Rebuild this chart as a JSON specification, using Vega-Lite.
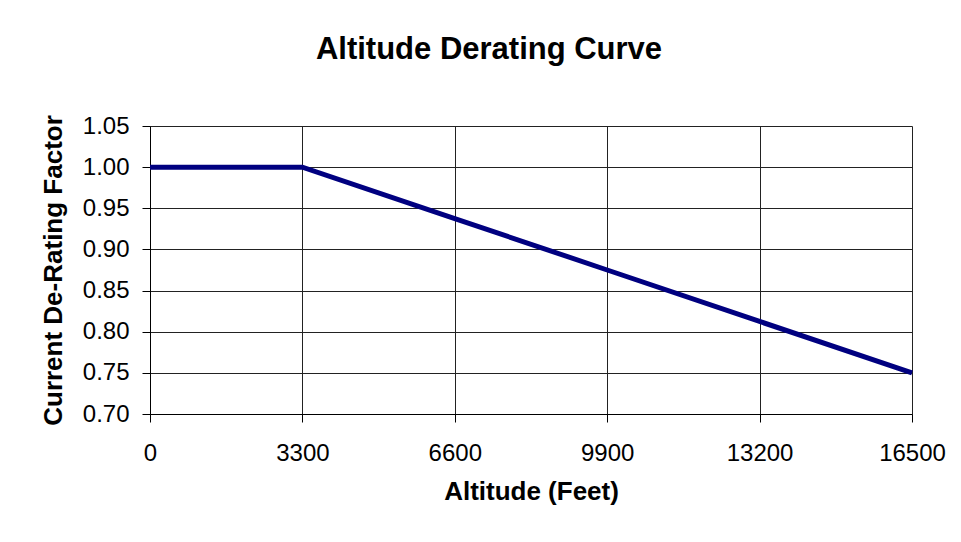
{
  "$schema": "https://vega.github.io/schema/vega-lite/v6.json",
  "width": 762,
  "height": 288,
  "autosize": "none",
  "padding": {"left": 150, "top": 126, "right": 49, "bottom": 128},
  "background": "white",
  "title": {
    "text": "Altitude Derating Curve",
    "font": "Liberation Sans",
    "fontSize": 31,
    "fontWeight": "bold",
    "color": "black",
    "anchor": "middle",
    "dx": -42,
    "offset": 48
  },
  "data": {
    "values": [
      {"altitude": 0, "factor": 1.0},
      {"altitude": 3300, "factor": 1.0},
      {"altitude": 6600, "factor": 0.9375},
      {"altitude": 9900, "factor": 0.875},
      {"altitude": 13200, "factor": 0.8125},
      {"altitude": 16500, "factor": 0.75}
    ]
  },
  "mark": {"type": "line", "color": "#000080", "strokeWidth": 5, "clip": false},
  "encoding": {
    "x": {
      "field": "altitude",
      "type": "quantitative",
      "scale": {"domain": [0, 16500], "nice": false, "zero": false},
      "axis": {
        "values": [0, 3300, 6600, 9900, 13200, 16500],
        "format": "d",
        "title": "Altitude (Feet)",
        "labelPadding": 19,
        "titlePadding": 13,
        "labelFlush": false,
        "labelOverlap": false
      }
    },
    "y": {
      "field": "factor",
      "type": "quantitative",
      "scale": {"domain": [0.7, 1.05], "nice": false, "zero": false},
      "axis": {
        "values": [0.7, 0.75, 0.8, 0.85, 0.9, 0.95, 1.0, 1.05],
        "format": ".2f",
        "title": "Current De-Rating Factor",
        "labelPadding": 13,
        "titlePadding": 16,
        "labelFlush": false,
        "labelOverlap": false
      }
    }
  },
  "config": {
    "view": {"stroke": null},
    "axis": {
      "domainColor": "black",
      "domainWidth": 1,
      "tickColor": "black",
      "tickSize": 8,
      "tickWidth": 1,
      "grid": true,
      "gridColor": "#222222",
      "gridWidth": 1,
      "gridOpacity": 1,
      "labelFont": "Liberation Sans",
      "labelFontSize": 24,
      "labelColor": "black",
      "titleFont": "Liberation Sans",
      "titleFontSize": 26,
      "titleFontWeight": "bold",
      "titleColor": "black"
    }
  }
}
